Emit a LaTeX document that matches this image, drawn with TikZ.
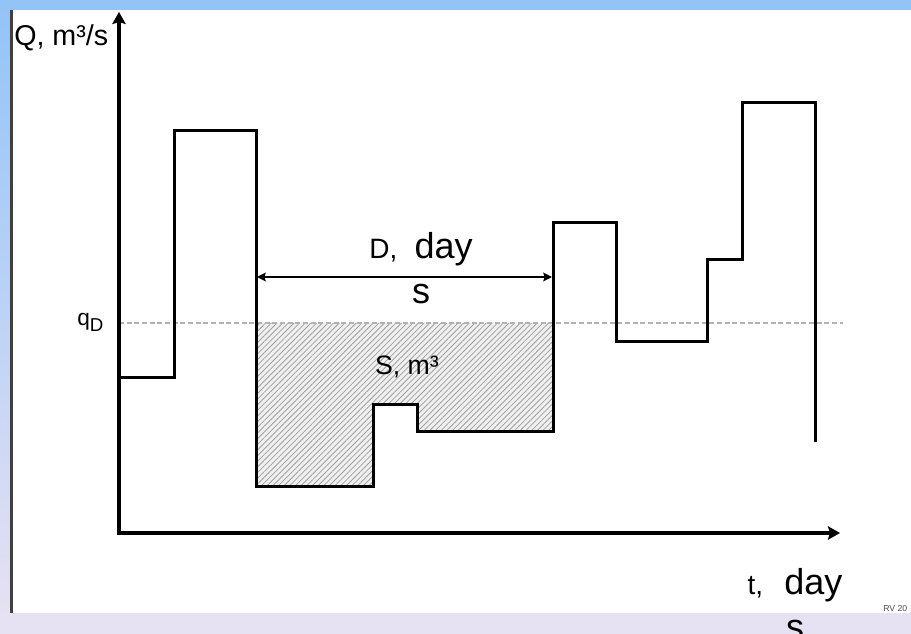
\documentclass[tikz,border=0pt]{standalone}
\usepackage{fontspec}
\setmainfont{Liberation Sans}
\usepackage{tikz}
\usetikzlibrary{arrows.meta,patterns.meta}
\definecolor{slideblue}{RGB}{147,196,248}
\definecolor{slidelilac}{RGB}{230,225,243}
\definecolor{slidegrey}{RGB}{64,64,64}

\begin{document}
\begin{tikzpicture}[x=0.75pt,y=-0.75pt,>={Stealth[length=6.5pt,width=6.5pt,inset=1pt]},
  axis/.style={line width=3pt,{Stealth[length=9pt,width=10pt,inset=1.5pt]}-{Stealth[length=9pt,width=10pt,inset=1.5pt]}},
  flow/.style={line width=2.25pt},
  level/.style={line width=2pt,gray!60,dash pattern=on 3.75pt off 2pt},
  deficit/.style={preaction={fill=gray!12},pattern={Lines[angle=45,distance=3pt,line width=0.6pt]},pattern color=gray!75},
  lab/.style={inner sep=0pt,font=\fontsize{20}{24}\selectfont},
  big/.style={inner sep=0pt,align=center,font=\fontsize{27}{34}\selectfont}]
  \useasboundingbox (0,0) rectangle (911,634);
  % slide frame
  \fill[white] (0,0) rectangle (911,634);
  \fill[slideblue] (0,0) rectangle (911,10);
  \shade[top color=slideblue,bottom color=slidelilac] (0,10) rectangle (10,613);
  \fill[slidelilac] (0,613) rectangle (911,634);
  \draw[slidegrey,line width=2.25pt] (11.5,10) -- (11.5,613);

  \coordinate (O) at (119,533);
  \coordinate (ytop) at (119,12);
  \coordinate (xend) at (840,533);

  % storage below the threshold
  \path[deficit] (256,323) -| (553,432) -| (417,405) -| (373,487) -| (256,323) -- cycle;
  \draw[level] (119,323) -- (843,323);

  % flow series
  \draw[flow] (119,378) -| (174,131) -| (256,487) -| (373,405) -| (417,432)
    -| (553,223) -| (616,342) -| (707,260) -| (742,103) -| (815,442);

  \draw[axis] (ytop) -- (O) -- (xend);

  \coordinate (dl) at (257,277);
  \coordinate (dr) at (552,277);
  \draw[<->,line width=1.5pt] (dl) -- (dr);

  \node[lab,anchor=base west,font=\fontsize{21.5}{26}\selectfont] (qaxis) at (14,46) {Q, m³/s};
  \node[inner sep=0pt,anchor=base west,font=\fontsize{17}{20}\selectfont] (qd) at (77,326) {q{\fontsize{14}{16}\selectfont\raisebox{-4pt}{D}}};
  \node[lab,anchor=base] (slab) at (407,375) {S, m³};
  \node[big,anchor=north] (dlab) at (421,232) {{\fontsize{21}{24}\selectfont D,}\hspace{13pt}day\\s};
  \node[big,anchor=north] (tlab) at (795,568) {{\fontsize{21}{24}\selectfont t,}\hspace{16pt}day\\s};
  \node[inner sep=0pt,anchor=base west,font=\fontsize{6.5}{8}\selectfont,text=gray!60!black] (rv) at (883,611) {RV 20};
\end{tikzpicture}
\end{document}
